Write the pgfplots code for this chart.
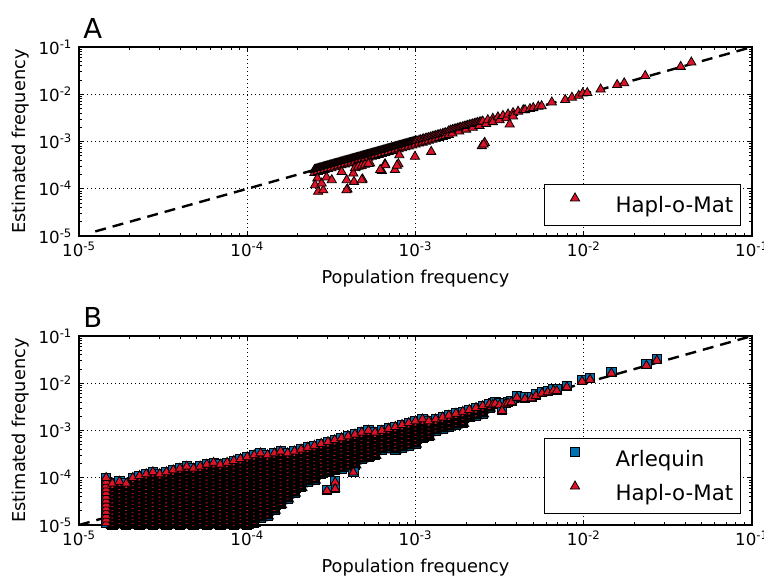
\documentclass[border=0pt]{standalone}
\usepackage{pgfplots}
\pgfplotsset{compat=1.18}
\usepackage{pgfplotstable}
\usepackage{fontspec}
\setmainfont{DejaVu Sans}
\definecolor{hapred}{RGB}{220,20,40}
\definecolor{arlblue}{RGB}{0,114,178}

% ---------- Panel A : Hapl-o-Mat, dense band near the diagonal ----------
\pgfplotstableread[row sep=\\]{
x y\\
2.51e-4 2.51e-4\\2.57e-4 2.57e-4\\2.63e-4 2.63e-4\\2.69e-4 2.69e-4\\2.75e-4 2.75e-4\\2.82e-4 2.82e-4\\2.88e-4 2.88e-4\\2.95e-4 2.95e-4\\3.02e-4 3.02e-4\\3.09e-4 3.09e-4\\
3.16e-4 3.16e-4\\3.24e-4 3.24e-4\\3.31e-4 3.31e-4\\3.39e-4 3.39e-4\\3.47e-4 3.47e-4\\3.55e-4 3.55e-4\\3.63e-4 3.63e-4\\3.72e-4 3.72e-4\\3.80e-4 3.80e-4\\3.89e-4 3.89e-4\\
3.98e-4 3.98e-4\\4.07e-4 4.07e-4\\4.17e-4 4.17e-4\\4.27e-4 4.27e-4\\4.37e-4 4.37e-4\\4.47e-4 4.47e-4\\4.57e-4 4.57e-4\\4.68e-4 4.68e-4\\4.79e-4 4.79e-4\\4.90e-4 4.90e-4\\
5.01e-4 5.01e-4\\5.13e-4 5.13e-4\\5.25e-4 5.25e-4\\5.37e-4 5.37e-4\\5.50e-4 5.50e-4\\5.62e-4 5.62e-4\\5.75e-4 5.75e-4\\5.89e-4 5.89e-4\\6.03e-4 6.03e-4\\6.17e-4 6.17e-4\\
6.31e-4 6.31e-4\\6.46e-4 6.46e-4\\6.61e-4 6.61e-4\\6.76e-4 6.76e-4\\6.92e-4 6.92e-4\\7.08e-4 7.08e-4\\7.24e-4 7.24e-4\\7.41e-4 7.41e-4\\7.59e-4 7.59e-4\\7.76e-4 7.76e-4\\
7.94e-4 7.94e-4\\8.13e-4 8.13e-4\\8.32e-4 8.32e-4\\8.51e-4 8.51e-4\\8.71e-4 8.71e-4\\8.91e-4 8.91e-4\\9.12e-4 9.12e-4\\9.33e-4 9.33e-4\\9.55e-4 9.55e-4\\9.77e-4 9.77e-4\\
2.54e-4 2.54e-4\\2.60e-4 2.60e-4\\2.66e-4 2.66e-4\\2.72e-4 2.72e-4\\2.79e-4 2.79e-4\\2.85e-4 2.85e-4\\2.92e-4 2.92e-4\\2.99e-4 2.99e-4\\3.06e-4 3.06e-4\\3.13e-4 3.13e-4\\
3.20e-4 3.20e-4\\3.27e-4 3.27e-4\\3.35e-4 3.35e-4\\3.43e-4 3.43e-4\\3.51e-4 3.51e-4\\3.59e-4 3.59e-4\\3.67e-4 3.67e-4\\3.76e-4 3.76e-4\\3.85e-4 3.85e-4\\3.94e-4 3.94e-4\\
4.03e-4 4.03e-4\\4.12e-4 4.12e-4\\4.22e-4 4.22e-4\\4.32e-4 4.32e-4\\4.42e-4 4.42e-4\\4.52e-4 4.52e-4\\4.62e-4 4.62e-4\\4.73e-4 4.73e-4\\4.84e-4 4.84e-4\\4.96e-4 4.96e-4\\
5.07e-4 5.07e-4\\5.19e-4 5.19e-4\\5.31e-4 5.31e-4\\5.43e-4 5.43e-4\\5.56e-4 5.56e-4\\5.69e-4 5.69e-4\\5.82e-4 5.82e-4\\5.96e-4 5.96e-4\\6.10e-4 6.10e-4\\6.24e-4 6.24e-4\\
6.38e-4 6.38e-4\\6.53e-4 6.53e-4\\6.68e-4 6.68e-4\\6.84e-4 6.84e-4\\7.00e-4 7.00e-4\\7.16e-4 7.16e-4\\7.33e-4 7.33e-4\\7.50e-4 7.50e-4\\7.67e-4 7.67e-4\\7.85e-4 7.85e-4\\
8.04e-4 8.04e-4\\8.22e-4 8.22e-4\\8.41e-4 8.41e-4\\8.61e-4 8.61e-4\\8.81e-4 8.81e-4\\9.02e-4 9.02e-4\\9.23e-4 9.23e-4\\9.44e-4 9.44e-4\\9.66e-4 9.66e-4\\9.89e-4 9.89e-4\\
1.00e-3 1.00e-3\\1.05e-3 1.05e-3\\1.10e-3 1.10e-3\\1.15e-3 1.15e-3\\1.20e-3 1.20e-3\\1.26e-3 1.26e-3\\1.32e-3 1.32e-3\\1.38e-3 1.38e-3\\1.45e-3 1.45e-3\\1.51e-3 1.51e-3\\
1.02e-3 1.02e-3\\1.07e-3 1.07e-3\\1.12e-3 1.12e-3\\1.17e-3 1.17e-3\\1.23e-3 1.23e-3\\1.29e-3 1.29e-3\\1.35e-3 1.35e-3\\1.41e-3 1.41e-3\\1.48e-3 1.48e-3\\1.55e-3 1.55e-3\\
1.58e-3 1.67e-3\\1.66e-3 1.76e-3\\1.74e-3 1.84e-3\\1.82e-3 1.93e-3\\1.91e-3 2.02e-3\\2.00e-3 2.12e-3\\2.09e-3 2.22e-3\\2.19e-3 2.32e-3\\2.29e-3 2.43e-3\\2.40e-3 2.54e-3\\
1.62e-3 1.72e-3\\1.70e-3 1.80e-3\\1.78e-3 1.89e-3\\1.86e-3 1.97e-3\\1.95e-3 2.07e-3\\2.04e-3 2.16e-3\\2.14e-3 2.27e-3\\2.24e-3 2.37e-3\\2.34e-3 2.48e-3\\2.45e-3 2.60e-3\\
2.51e-3 2.66e-3\\2.69e-3 2.85e-3\\2.88e-3 3.05e-3\\3.09e-3 3.28e-3\\3.31e-3 3.51e-3\\3.55e-3 3.76e-3\\3.80e-3 4.03e-3\\4.07e-3 4.31e-3\\4.37e-3 4.63e-3\\
2.51e-4 2.18e-4\\2.63e-4 2.29e-4\\2.75e-4 2.39e-4\\2.88e-4 2.51e-4\\3.02e-4 2.63e-4\\3.16e-4 2.75e-4\\3.31e-4 2.88e-4\\3.47e-4 3.02e-4\\3.63e-4 3.16e-4\\3.80e-4 3.31e-4\\
3.98e-4 3.47e-4\\4.17e-4 3.63e-4\\4.37e-4 3.80e-4\\4.57e-4 3.98e-4\\4.79e-4 4.17e-4\\5.01e-4 4.37e-4\\5.25e-4 4.57e-4\\5.50e-4 4.79e-4\\5.75e-4 5.01e-4\\6.03e-4 5.25e-4\\
6.31e-4 5.50e-4\\6.61e-4 5.75e-4\\6.92e-4 6.03e-4\\7.24e-4 6.31e-4\\7.59e-4 6.61e-4\\7.94e-4 6.92e-4\\8.32e-4 7.24e-4\\8.71e-4 7.59e-4\\9.12e-4 7.94e-4\\9.55e-4 8.32e-4\\
1.00e-3 8.71e-4\\1.05e-3 9.12e-4\\1.10e-3 9.55e-4\\1.15e-3 1.00e-3\\1.20e-3 1.05e-3\\1.26e-3 1.10e-3\\1.32e-3 1.15e-3\\1.38e-3 1.20e-3\\1.45e-3 1.26e-3\\1.51e-3 1.32e-3\\
1.58e-3 1.38e-3\\1.66e-3 1.49e-3\\1.82e-3 1.64e-3\\2.00e-3 1.80e-3\\2.19e-3 1.97e-3\\2.40e-3 2.16e-3\\2.63e-3 2.37e-3\\2.88e-3 2.59e-3\\3.16e-3 2.84e-3\\3.47e-3 3.12e-3\\3.80e-3 3.42e-3\\
}\hapAband
\pgfplotstablesort[sort key=x]{\hapAbandsorted}{\hapAband}

% ---------- Panel A : Hapl-o-Mat, outliers and high frequencies ----------
\pgfplotstableread[row sep=\\]{
x y\\
4.48e-3 4.65e-3\\4.79e-3 4.90e-3\\5.01e-3 5.13e-3\\5.37e-3 5.50e-3\\5.62e-3 5.62e-3\\6.46e-3 6.76e-3\\7.76e-3 7.59e-3\\8.51e-3 8.51e-3\\9.33e-3 9.33e-3\\9.86e-3 1.05e-2\\
1.05e-2 1.07e-2\\1.26e-2 1.27e-2\\1.58e-2 1.58e-2\\1.74e-2 1.72e-2\\2.32e-2 2.45e-2\\3.77e-2 3.83e-2\\4.36e-2 4.74e-2\\
2.61e-4 1.66e-4\\2.53e-4 1.20e-4\\2.64e-4 8.71e-5\\2.83e-4 9.33e-5\\2.77e-4 1.30e-4\\2.96e-4 1.75e-4\\3.18e-4 1.53e-4\\3.64e-4 2.29e-4\\3.90e-4 1.53e-4\\3.94e-4 9.77e-5\\
4.31e-4 1.41e-4\\4.27e-4 2.12e-4\\4.43e-4 2.84e-4\\4.85e-4 1.58e-4\\4.72e-4 3.02e-4\\5.37e-4 3.47e-4\\6.31e-4 2.41e-4\\6.59e-4 3.34e-4\\7.55e-4 2.51e-4\\7.91e-4 3.34e-4\\
8.02e-4 5.18e-4\\9.93e-4 4.79e-4\\1.24e-3 6.08e-4\\7.76e-4 3.09e-4\\6.61e-4 3.16e-4\\4.79e-4 1.53e-4\\3.89e-4 9.33e-5\\6.17e-4 2.51e-4\\
4.37e-4 2.75e-4\\4.57e-4 2.95e-4\\4.79e-4 3.09e-4\\5.01e-4 3.24e-4\\5.25e-4 3.39e-4\\
2.48e-3 8.04e-4\\2.58e-3 9.44e-4\\2.54e-3 8.71e-4\\3.63e-3 2.31e-3\\
}\hapAout

% ---------- Panel B : common low-frequency cloud (both estimators) ----------
\pgfplotstableread[row sep=\\]{
x y\\
1.58e-5 1.00e-5\\1.58e-5 1.20e-5\\1.58e-5 1.45e-5\\1.58e-5 1.74e-5\\1.58e-5 2.09e-5\\1.58e-5 2.51e-5\\1.58e-5 3.02e-5\\1.58e-5 3.63e-5\\1.58e-5 4.37e-5\\1.58e-5 5.25e-5\\1.58e-5 6.31e-5\\
1.74e-5 9.12e-6\\1.74e-5 1.10e-5\\1.74e-5 1.32e-5\\1.74e-5 1.58e-5\\1.74e-5 1.91e-5\\1.74e-5 2.29e-5\\1.74e-5 2.75e-5\\1.74e-5 3.31e-5\\1.74e-5 3.98e-5\\1.74e-5 4.79e-5\\1.74e-5 5.75e-5\\1.74e-5 6.92e-5\\
1.91e-5 1.00e-5\\1.91e-5 1.20e-5\\1.91e-5 1.45e-5\\1.91e-5 1.74e-5\\1.91e-5 2.09e-5\\1.91e-5 2.51e-5\\1.91e-5 3.02e-5\\1.91e-5 3.63e-5\\1.91e-5 4.37e-5\\1.91e-5 5.25e-5\\1.91e-5 6.31e-5\\
2.09e-5 9.12e-6\\2.09e-5 1.10e-5\\2.09e-5 1.32e-5\\2.09e-5 1.58e-5\\2.09e-5 1.91e-5\\2.09e-5 2.29e-5\\2.09e-5 2.75e-5\\2.09e-5 3.31e-5\\2.09e-5 3.98e-5\\2.09e-5 4.79e-5\\2.09e-5 5.75e-5\\2.09e-5 6.92e-5\\2.09e-5 8.32e-5\\
2.29e-5 1.00e-5\\2.29e-5 1.20e-5\\2.29e-5 1.45e-5\\2.29e-5 1.74e-5\\2.29e-5 2.09e-5\\2.29e-5 2.51e-5\\2.29e-5 3.02e-5\\2.29e-5 3.63e-5\\2.29e-5 4.37e-5\\2.29e-5 5.25e-5\\2.29e-5 6.31e-5\\2.29e-5 7.59e-5\\2.29e-5 9.12e-5\\
2.51e-5 9.12e-6\\2.51e-5 1.10e-5\\2.51e-5 1.32e-5\\2.51e-5 1.58e-5\\2.51e-5 1.91e-5\\2.51e-5 2.29e-5\\2.51e-5 2.75e-5\\2.51e-5 3.31e-5\\2.51e-5 3.98e-5\\2.51e-5 4.79e-5\\2.51e-5 5.75e-5\\2.51e-5 6.92e-5\\2.51e-5 8.32e-5\\2.51e-5 1.00e-4\\
2.75e-5 1.00e-5\\2.75e-5 1.20e-5\\2.75e-5 1.45e-5\\2.75e-5 1.74e-5\\2.75e-5 2.09e-5\\2.75e-5 2.51e-5\\2.75e-5 3.02e-5\\2.75e-5 3.63e-5\\2.75e-5 4.37e-5\\2.75e-5 5.25e-5\\2.75e-5 6.31e-5\\2.75e-5 7.59e-5\\2.75e-5 9.12e-5\\2.75e-5 1.10e-4\\
3.02e-5 9.12e-6\\3.02e-5 1.10e-5\\3.02e-5 1.32e-5\\3.02e-5 1.58e-5\\3.02e-5 1.91e-5\\3.02e-5 2.29e-5\\3.02e-5 2.75e-5\\3.02e-5 3.31e-5\\3.02e-5 3.98e-5\\3.02e-5 4.79e-5\\3.02e-5 5.75e-5\\3.02e-5 6.92e-5\\3.02e-5 8.32e-5\\3.02e-5 1.00e-4\\
3.31e-5 1.00e-5\\3.31e-5 1.20e-5\\3.31e-5 1.45e-5\\3.31e-5 1.74e-5\\3.31e-5 2.09e-5\\3.31e-5 2.51e-5\\3.31e-5 3.02e-5\\3.31e-5 3.63e-5\\3.31e-5 4.37e-5\\3.31e-5 5.25e-5\\3.31e-5 6.31e-5\\3.31e-5 7.59e-5\\3.31e-5 9.12e-5\\3.31e-5 1.10e-4\\
3.63e-5 9.12e-6\\3.63e-5 1.10e-5\\3.63e-5 1.32e-5\\3.63e-5 1.58e-5\\3.63e-5 1.91e-5\\3.63e-5 2.29e-5\\3.63e-5 2.75e-5\\3.63e-5 3.31e-5\\3.63e-5 3.98e-5\\3.63e-5 4.79e-5\\3.63e-5 5.75e-5\\3.63e-5 6.92e-5\\3.63e-5 8.32e-5\\3.63e-5 1.00e-4\\3.63e-5 1.20e-4\\
3.98e-5 1.00e-5\\3.98e-5 1.20e-5\\3.98e-5 1.45e-5\\3.98e-5 1.74e-5\\3.98e-5 2.09e-5\\3.98e-5 2.51e-5\\3.98e-5 3.02e-5\\3.98e-5 3.63e-5\\3.98e-5 4.37e-5\\3.98e-5 5.25e-5\\3.98e-5 6.31e-5\\3.98e-5 7.59e-5\\3.98e-5 9.12e-5\\3.98e-5 1.10e-4\\3.98e-5 1.32e-4\\
4.37e-5 9.12e-6\\4.37e-5 1.10e-5\\4.37e-5 1.32e-5\\4.37e-5 1.58e-5\\4.37e-5 1.91e-5\\4.37e-5 2.29e-5\\4.37e-5 2.75e-5\\4.37e-5 3.31e-5\\4.37e-5 3.98e-5\\4.37e-5 4.79e-5\\4.37e-5 5.75e-5\\4.37e-5 6.92e-5\\4.37e-5 8.32e-5\\4.37e-5 1.00e-4\\4.37e-5 1.20e-4\\4.37e-5 1.45e-4\\
4.79e-5 1.00e-5\\4.79e-5 1.20e-5\\4.79e-5 1.45e-5\\4.79e-5 1.74e-5\\4.79e-5 2.09e-5\\4.79e-5 2.51e-5\\4.79e-5 3.02e-5\\4.79e-5 3.63e-5\\4.79e-5 4.37e-5\\4.79e-5 5.25e-5\\4.79e-5 6.31e-5\\4.79e-5 7.59e-5\\4.79e-5 9.12e-5\\4.79e-5 1.10e-4\\4.79e-5 1.32e-4\\
5.25e-5 9.12e-6\\5.25e-5 1.10e-5\\5.25e-5 1.32e-5\\5.25e-5 1.58e-5\\5.25e-5 1.91e-5\\5.25e-5 2.29e-5\\5.25e-5 2.75e-5\\5.25e-5 3.31e-5\\5.25e-5 3.98e-5\\5.25e-5 4.79e-5\\5.25e-5 5.75e-5\\5.25e-5 6.92e-5\\5.25e-5 8.32e-5\\5.25e-5 1.00e-4\\5.25e-5 1.20e-4\\5.25e-5 1.45e-4\\
5.75e-5 1.00e-5\\5.75e-5 1.20e-5\\5.75e-5 1.45e-5\\5.75e-5 1.74e-5\\5.75e-5 2.09e-5\\5.75e-5 2.51e-5\\5.75e-5 3.02e-5\\5.75e-5 3.63e-5\\5.75e-5 4.37e-5\\5.75e-5 5.25e-5\\5.75e-5 6.31e-5\\5.75e-5 7.59e-5\\5.75e-5 9.12e-5\\5.75e-5 1.10e-4\\5.75e-5 1.32e-4\\5.75e-5 1.58e-4\\
6.31e-5 9.12e-6\\6.31e-5 1.10e-5\\6.31e-5 1.32e-5\\6.31e-5 1.58e-5\\6.31e-5 1.91e-5\\6.31e-5 2.29e-5\\6.31e-5 2.75e-5\\6.31e-5 3.31e-5\\6.31e-5 3.98e-5\\6.31e-5 4.79e-5\\6.31e-5 5.75e-5\\6.31e-5 6.92e-5\\6.31e-5 8.32e-5\\6.31e-5 1.00e-4\\6.31e-5 1.20e-4\\6.31e-5 1.45e-4\\6.31e-5 1.74e-4\\
6.92e-5 1.00e-5\\6.92e-5 1.20e-5\\6.92e-5 1.45e-5\\6.92e-5 1.74e-5\\6.92e-5 2.09e-5\\6.92e-5 2.51e-5\\6.92e-5 3.02e-5\\6.92e-5 3.63e-5\\6.92e-5 4.37e-5\\6.92e-5 5.25e-5\\6.92e-5 6.31e-5\\6.92e-5 7.59e-5\\6.92e-5 9.12e-5\\6.92e-5 1.10e-4\\6.92e-5 1.32e-4\\6.92e-5 1.58e-4\\
7.59e-5 9.12e-6\\7.59e-5 1.10e-5\\7.59e-5 1.32e-5\\7.59e-5 1.58e-5\\7.59e-5 1.91e-5\\7.59e-5 2.29e-5\\7.59e-5 2.75e-5\\7.59e-5 3.31e-5\\7.59e-5 3.98e-5\\7.59e-5 4.79e-5\\7.59e-5 5.75e-5\\7.59e-5 6.92e-5\\7.59e-5 8.32e-5\\7.59e-5 1.00e-4\\7.59e-5 1.20e-4\\7.59e-5 1.45e-4\\7.59e-5 1.74e-4\\
8.32e-5 1.00e-5\\8.32e-5 1.20e-5\\8.32e-5 1.45e-5\\8.32e-5 1.74e-5\\8.32e-5 2.09e-5\\8.32e-5 2.51e-5\\8.32e-5 3.02e-5\\8.32e-5 3.63e-5\\8.32e-5 4.37e-5\\8.32e-5 5.25e-5\\8.32e-5 6.31e-5\\8.32e-5 7.59e-5\\8.32e-5 9.12e-5\\8.32e-5 1.10e-4\\8.32e-5 1.32e-4\\8.32e-5 1.58e-4\\8.32e-5 1.91e-4\\
9.12e-5 9.12e-6\\9.12e-5 1.10e-5\\9.12e-5 1.32e-5\\9.12e-5 1.58e-5\\9.12e-5 1.91e-5\\9.12e-5 2.29e-5\\9.12e-5 2.75e-5\\9.12e-5 3.31e-5\\9.12e-5 3.98e-5\\9.12e-5 4.79e-5\\9.12e-5 5.75e-5\\9.12e-5 6.92e-5\\9.12e-5 8.32e-5\\9.12e-5 1.00e-4\\9.12e-5 1.20e-4\\9.12e-5 1.45e-4\\9.12e-5 1.74e-4\\9.12e-5 2.09e-4\\
1.00e-4 1.00e-5\\1.00e-4 1.20e-5\\1.00e-4 1.45e-5\\1.00e-4 1.74e-5\\1.00e-4 2.09e-5\\1.00e-4 2.51e-5\\1.00e-4 3.02e-5\\1.00e-4 3.63e-5\\1.00e-4 4.37e-5\\1.00e-4 5.25e-5\\1.00e-4 6.31e-5\\1.00e-4 7.59e-5\\1.00e-4 9.12e-5\\1.00e-4 1.10e-4\\1.00e-4 1.32e-4\\1.00e-4 1.58e-4\\1.00e-4 1.91e-4\\1.00e-4 2.29e-4\\
1.10e-4 1.10e-5\\1.10e-4 1.32e-5\\1.10e-4 1.58e-5\\1.10e-4 1.91e-5\\1.10e-4 2.29e-5\\1.10e-4 2.75e-5\\1.10e-4 3.31e-5\\1.10e-4 3.98e-5\\1.10e-4 4.79e-5\\1.10e-4 5.75e-5\\1.10e-4 6.92e-5\\1.10e-4 8.32e-5\\1.10e-4 1.00e-4\\1.10e-4 1.20e-4\\1.10e-4 1.45e-4\\1.10e-4 1.74e-4\\1.10e-4 2.09e-4\\1.10e-4 2.51e-4\\
1.20e-4 1.45e-5\\1.20e-4 1.74e-5\\1.20e-4 2.09e-5\\1.20e-4 2.51e-5\\1.20e-4 3.02e-5\\1.20e-4 3.63e-5\\1.20e-4 4.37e-5\\1.20e-4 5.25e-5\\1.20e-4 6.31e-5\\1.20e-4 7.59e-5\\1.20e-4 9.12e-5\\1.20e-4 1.10e-4\\1.20e-4 1.32e-4\\1.20e-4 1.58e-4\\1.20e-4 1.91e-4\\1.20e-4 2.29e-4\\1.20e-4 2.75e-4\\
1.32e-4 1.58e-5\\1.32e-4 1.91e-5\\1.32e-4 2.29e-5\\1.32e-4 2.75e-5\\1.32e-4 3.31e-5\\1.32e-4 3.98e-5\\1.32e-4 4.79e-5\\1.32e-4 5.75e-5\\1.32e-4 6.92e-5\\1.32e-4 8.32e-5\\1.32e-4 1.00e-4\\1.32e-4 1.20e-4\\1.32e-4 1.45e-4\\1.32e-4 1.74e-4\\1.32e-4 2.09e-4\\1.32e-4 2.51e-4\\
1.45e-4 2.09e-5\\1.45e-4 2.51e-5\\1.45e-4 3.02e-5\\1.45e-4 3.63e-5\\1.45e-4 4.37e-5\\1.45e-4 5.25e-5\\1.45e-4 6.31e-5\\1.45e-4 7.59e-5\\1.45e-4 9.12e-5\\1.45e-4 1.10e-4\\1.45e-4 1.32e-4\\1.45e-4 1.58e-4\\1.45e-4 1.91e-4\\1.45e-4 2.29e-4\\1.45e-4 2.75e-4\\
1.58e-4 2.75e-5\\1.58e-4 3.31e-5\\1.58e-4 3.98e-5\\1.58e-4 4.79e-5\\1.58e-4 5.75e-5\\1.58e-4 6.92e-5\\1.58e-4 8.32e-5\\1.58e-4 1.00e-4\\1.58e-4 1.20e-4\\1.58e-4 1.45e-4\\1.58e-4 1.74e-4\\1.58e-4 2.09e-4\\1.58e-4 2.51e-4\\1.58e-4 3.02e-4\\
1.74e-4 3.63e-5\\1.74e-4 4.37e-5\\1.74e-4 5.25e-5\\1.74e-4 6.31e-5\\1.74e-4 7.59e-5\\1.74e-4 9.12e-5\\1.74e-4 1.10e-4\\1.74e-4 1.32e-4\\1.74e-4 1.58e-4\\1.74e-4 1.91e-4\\1.74e-4 2.29e-4\\1.74e-4 2.75e-4\\
1.91e-4 4.79e-5\\1.91e-4 5.75e-5\\1.91e-4 6.92e-5\\1.91e-4 8.32e-5\\1.91e-4 1.00e-4\\1.91e-4 1.20e-4\\1.91e-4 1.45e-4\\1.91e-4 1.74e-4\\1.91e-4 2.09e-4\\1.91e-4 2.51e-4\\1.91e-4 3.02e-4\\
2.09e-4 6.31e-5\\2.09e-4 7.59e-5\\2.09e-4 9.12e-5\\2.09e-4 1.10e-4\\2.09e-4 1.32e-4\\2.09e-4 1.58e-4\\2.09e-4 1.91e-4\\2.09e-4 2.29e-4\\2.09e-4 2.75e-4\\2.09e-4 3.31e-4\\
2.29e-4 8.32e-5\\2.29e-4 1.00e-4\\2.29e-4 1.20e-4\\2.29e-4 1.45e-4\\2.29e-4 1.74e-4\\2.29e-4 2.09e-4\\2.29e-4 2.51e-4\\2.29e-4 3.02e-4\\2.29e-4 3.63e-4\\
2.51e-4 9.12e-5\\2.51e-4 1.10e-4\\2.51e-4 1.32e-4\\2.51e-4 1.58e-4\\2.51e-4 1.91e-4\\2.51e-4 2.29e-4\\2.51e-4 2.75e-4\\2.51e-4 3.31e-4\\2.51e-4 3.98e-4\\
2.75e-4 1.20e-4\\2.75e-4 1.45e-4\\2.75e-4 1.74e-4\\2.75e-4 2.09e-4\\2.75e-4 2.51e-4\\2.75e-4 3.02e-4\\2.75e-4 3.63e-4\\2.75e-4 4.37e-4\\
3.02e-4 1.32e-4\\3.02e-4 1.58e-4\\3.02e-4 1.91e-4\\3.02e-4 2.29e-4\\3.02e-4 2.75e-4\\3.02e-4 3.31e-4\\3.02e-4 3.98e-4\\3.02e-4 4.79e-4\\
3.31e-4 1.45e-4\\3.31e-4 1.74e-4\\3.31e-4 2.09e-4\\3.31e-4 2.51e-4\\3.31e-4 3.02e-4\\3.31e-4 3.63e-4\\3.31e-4 4.37e-4\\3.31e-4 5.25e-4\\
3.63e-4 1.58e-4\\3.63e-4 1.91e-4\\3.63e-4 2.29e-4\\3.63e-4 2.75e-4\\3.63e-4 3.31e-4\\3.63e-4 3.98e-4\\3.63e-4 4.79e-4\\3.63e-4 5.75e-4\\
3.98e-4 1.74e-4\\3.98e-4 2.09e-4\\3.98e-4 2.51e-4\\3.98e-4 3.02e-4\\3.98e-4 3.63e-4\\3.98e-4 4.37e-4\\3.98e-4 5.25e-4\\3.98e-4 6.31e-4\\
4.37e-4 1.91e-4\\4.37e-4 2.29e-4\\4.37e-4 2.75e-4\\4.37e-4 3.31e-4\\4.37e-4 3.98e-4\\4.37e-4 4.79e-4\\4.37e-4 5.75e-4\\4.37e-4 6.92e-4\\
4.79e-4 2.51e-4\\4.79e-4 3.02e-4\\4.79e-4 3.63e-4\\4.79e-4 4.37e-4\\4.79e-4 5.25e-4\\4.79e-4 6.31e-4\\4.79e-4 7.59e-4\\
5.25e-4 2.75e-4\\5.25e-4 3.31e-4\\5.25e-4 3.98e-4\\5.25e-4 4.79e-4\\5.25e-4 5.75e-4\\5.25e-4 6.92e-4\\5.25e-4 8.32e-4\\
5.75e-4 3.02e-4\\5.75e-4 3.63e-4\\5.75e-4 4.37e-4\\5.75e-4 5.25e-4\\5.75e-4 6.31e-4\\5.75e-4 7.59e-4\\
6.31e-4 3.98e-4\\6.31e-4 4.79e-4\\6.31e-4 5.75e-4\\6.31e-4 6.92e-4\\6.31e-4 8.32e-4\\
6.92e-4 4.37e-4\\6.92e-4 5.25e-4\\6.92e-4 6.31e-4\\6.92e-4 7.59e-4\\6.92e-4 9.12e-4\\
7.59e-4 3.98e-4\\7.59e-4 4.79e-4\\7.59e-4 5.75e-4\\7.59e-4 6.92e-4\\7.59e-4 8.32e-4\\7.59e-4 1.00e-3\\
8.32e-4 4.37e-4\\8.32e-4 5.25e-4\\8.32e-4 6.31e-4\\8.32e-4 7.59e-4\\8.32e-4 9.12e-4\\8.32e-4 1.10e-3\\
9.12e-4 4.79e-4\\9.12e-4 5.75e-4\\9.12e-4 6.92e-4\\9.12e-4 8.32e-4\\9.12e-4 1.00e-3\\9.12e-4 1.20e-3\\
1.00e-3 5.25e-4\\1.00e-3 6.31e-4\\1.00e-3 7.59e-4\\1.00e-3 9.12e-4\\1.00e-3 1.10e-3\\1.00e-3 1.32e-3\\
1.10e-3 6.92e-4\\1.10e-3 8.32e-4\\1.10e-3 1.00e-3\\1.10e-3 1.20e-3\\1.10e-3 1.45e-3\\
1.20e-3 7.59e-4\\1.20e-3 9.12e-4\\1.20e-3 1.10e-3\\1.20e-3 1.32e-3\\
1.32e-3 1.00e-3\\1.32e-3 1.20e-3\\1.32e-3 1.45e-3\\
1.45e-3 1.10e-3\\1.45e-3 1.32e-3\\1.45e-3 1.58e-3\\
1.58e-3 1.20e-3\\1.58e-3 1.45e-3\\1.58e-3 1.74e-3\\
1.74e-3 1.32e-3\\1.74e-3 1.58e-3\\1.74e-3 1.91e-3\\
1.91e-3 1.45e-3\\1.91e-3 1.74e-3\\1.91e-3 2.09e-3\\
2.09e-3 1.91e-3\\2.09e-3 2.29e-3\\
2.29e-3 2.09e-3\\2.29e-3 2.51e-3\\
2.51e-3 2.29e-3\\2.51e-3 2.75e-3\\
2.75e-3 3.02e-3\\
}\cloudB

% ---------- Panel B : cloud edge (first column and upper envelope) ----------
\pgfplotstableread[row sep=\\]{
x y\\
1.45e-5 9.12e-6\\1.45e-5 1.10e-5\\1.45e-5 1.32e-5\\1.45e-5 1.58e-5\\1.45e-5 1.91e-5\\1.45e-5 2.29e-5\\1.45e-5 2.75e-5\\1.45e-5 3.31e-5\\1.45e-5 3.98e-5\\1.45e-5 4.79e-5\\1.45e-5 5.75e-5\\1.45e-5 6.92e-5\\1.45e-5 8.32e-5\\1.45e-5 1.00e-4\\
1.58e-5 7.59e-5\\1.74e-5 8.32e-5\\1.91e-5 7.59e-5\\2.09e-5 1.00e-4\\2.29e-5 1.10e-4\\2.51e-5 1.20e-4\\2.75e-5 1.32e-4\\3.02e-5 1.20e-4\\3.31e-5 1.32e-4\\3.63e-5 1.45e-4\\
3.98e-5 1.58e-4\\4.37e-5 1.74e-4\\4.79e-5 1.58e-4\\5.25e-5 1.74e-4\\5.75e-5 1.91e-4\\6.31e-5 2.09e-4\\6.92e-5 1.91e-4\\7.59e-5 2.09e-4\\8.32e-5 2.29e-4\\9.12e-5 2.51e-4\\
1.00e-4 2.75e-4\\1.10e-4 3.02e-4\\1.20e-4 3.31e-4\\1.32e-4 3.02e-4\\1.45e-4 3.31e-4\\1.58e-4 3.63e-4\\1.74e-4 3.31e-4\\1.91e-4 3.63e-4\\2.09e-4 3.98e-4\\2.29e-4 4.37e-4\\
2.51e-4 4.79e-4\\2.75e-4 5.25e-4\\3.02e-4 5.75e-4\\3.31e-4 6.31e-4\\3.63e-4 6.92e-4\\3.98e-4 7.59e-4\\4.37e-4 8.32e-4\\4.79e-4 9.12e-4\\5.25e-4 1.00e-3\\5.75e-4 9.12e-4\\
6.31e-4 1.00e-3\\6.92e-4 1.10e-3\\7.59e-4 1.20e-3\\8.32e-4 1.32e-3\\9.12e-4 1.45e-3\\1.00e-3 1.58e-3\\1.10e-3 1.74e-3\\1.20e-3 1.58e-3\\1.32e-3 1.74e-3\\1.45e-3 1.91e-3\\
1.58e-3 2.09e-3\\1.74e-3 2.29e-3\\1.91e-3 2.51e-3\\2.09e-3 2.75e-3\\2.29e-3 3.02e-3\\2.51e-3 3.31e-3\\2.75e-3 3.63e-3\\
}\edgeB

% ---------- Panel B : higher-frequency points ----------
\pgfplotstableread[row sep=\\]{
x y\\
3.33e-4 8.32e-5\\3.33e-4 6.03e-5\\4.27e-4 1.35e-4\\2.98e-4 5.50e-5\\
2.88e-3 3.80e-3\\2.98e-3 3.98e-3\\3.16e-3 3.72e-3\\3.27e-3 2.82e-3\\3.42e-3 3.89e-3\\3.55e-3 4.07e-3\\3.72e-3 4.27e-3\\4.01e-3 5.37e-3\\4.47e-3 5.01e-3\\4.90e-3 5.19e-3\\
5.20e-3 5.83e-3\\5.65e-3 6.61e-3\\6.11e-3 6.95e-3\\6.61e-3 7.59e-3\\6.92e-3 7.41e-3\\7.94e-3 8.91e-3\\9.77e-3 1.17e-2\\1.09e-2 1.29e-2\\1.46e-2 1.75e-2\\2.36e-2 2.55e-2\\2.72e-2 3.26e-2\\
}\arlB
\pgfplotstableread[row sep=\\]{
x y\\
3.33e-4 8.00e-5\\3.33e-4 5.80e-5\\4.27e-4 1.30e-4\\2.98e-4 5.30e-5\\
2.88e-3 3.53e-3\\2.98e-3 3.70e-3\\3.16e-3 3.46e-3\\3.27e-3 2.62e-3\\3.42e-3 3.62e-3\\3.55e-3 3.79e-3\\3.72e-3 3.97e-3\\4.01e-3 4.99e-3\\4.47e-3 4.66e-3\\4.90e-3 4.83e-3\\
5.20e-3 5.42e-3\\5.65e-3 6.15e-3\\6.11e-3 6.46e-3\\6.61e-3 7.06e-3\\6.92e-3 6.89e-3\\7.94e-3 8.29e-3\\9.77e-3 1.09e-2\\1.09e-2 1.20e-2\\1.46e-2 1.63e-2\\2.36e-2 2.37e-2\\2.72e-2 3.03e-2\\
}\hapB

\pgfplotsset{
  panel/.style={
    scale only axis, width=504.75pt, height=141.75pt,
    xmin=1e-5, xmax=1e-1, ymin=1e-5, ymax=1e-1,
    xtick={1e-5,1e-4,1e-3,1e-2,1e-1},
    ytick={1e-5,1e-4,1e-3,1e-2,1e-1},
    xticklabels={10\textsuperscript{-5},10\textsuperscript{-4},10\textsuperscript{-3},10\textsuperscript{-2},10\textsuperscript{-1}},
    yticklabels={10\textsuperscript{-5},10\textsuperscript{-4},10\textsuperscript{-3},10\textsuperscript{-2},10\textsuperscript{-1}},
    minor xtick={2e-5,3e-5,4e-5,5e-5,6e-5,7e-5,8e-5,9e-5,2e-4,3e-4,4e-4,5e-4,6e-4,7e-4,8e-4,9e-4,2e-3,3e-3,4e-3,5e-3,6e-3,7e-3,8e-3,9e-3,2e-2,3e-2,4e-2,5e-2,6e-2,7e-2,8e-2,9e-2},
    minor ytick={2e-5,3e-5,4e-5,5e-5,6e-5,7e-5,8e-5,9e-5,2e-4,3e-4,4e-4,5e-4,6e-4,7e-4,8e-4,9e-4,2e-3,3e-3,4e-3,5e-3,6e-3,7e-3,8e-3,9e-3,2e-2,3e-2,4e-2,5e-2,6e-2,7e-2,8e-2,9e-2},
    tick align=inside, xtick pos=both, ytick pos=both,
    major tick length=3.75pt, minor tick length=2pt,
    tick style={black, line width=0.6pt},
    axis line style={black, line width=0.9pt},
    grid=major,
    major grid style={black, line width=0.6pt, dash pattern=on 0.75pt off 2.25pt},
    tick label style={font=\fontsize{12.5}{14}\selectfont, inner sep=0pt},
    xticklabel shift=4.5pt, yticklabel shift=5pt,
    label style={font=\fontsize{13.3}{16}\selectfont},
    xlabel={Population frequency}, ylabel={Estimated frequency},
    xlabel style={at={(axis description cs:0.5,-0.249)}, anchor=base},
    ylabel style={at={(axis description cs:-0.0802,0.5)}, anchor=base},
    legend cell align=left,
    legend style={anchor=south east, draw=black, line width=0.75pt,
      inner xsep=5.5pt, inner ysep=6.6pt, font=\fontsize{16}{19}\selectfont,
      nodes={inner sep=0pt, text height=13pt, text depth=3pt}, row sep=7.8pt},
  },
  hapstyle/.style={only marks, mark=triangle*, mark size=4pt, black,
    mark options={solid, fill=hapred, draw=black, line width=0.6pt},
    legend image code/.code={\path (-17pt,0pt) (30pt,0pt);
      \draw[black] plot[only marks, mark=triangle*, mark size=4pt,
        mark options={solid, fill=hapred, draw=black, line width=0.6pt}] coordinates {(0pt,5.8pt)};}},
  arlstyle/.style={only marks, mark=square*, mark size=3.5pt, black,
    mark options={solid, fill=arlblue, draw=black, line width=0.6pt},
    legend image code/.code={\path (-17pt,0pt) (30pt,0pt);
      \draw[black] plot[only marks, mark=square*, mark size=3.5pt,
        mark options={solid, fill=arlblue, draw=black, line width=0.6pt}] coordinates {(0pt,5.8pt)};}},
  hapcloud/.style={hapstyle, mark size=3.6pt, mark options={solid, fill=hapred, draw=black, line width=2.2pt}},
  arlcloud/.style={arlstyle, mark options={solid, fill=arlblue, draw=black, line width=0.8pt}},
  diag/.style={black, line width=1.8pt, dash pattern=on 8.25pt off 5.25pt, forget plot},
}

\begin{document}
\begin{tikzpicture}
\useasboundingbox (0pt,0pt) rectangle (573pt,432pt);
\begin{axis}[xmode=log, ymode=log, panel, name=A, at={(59.25pt,255pt)}, anchor=south west,
  legend style={at={(0.9837,0.053)}}]
\addplot[diag] coordinates {(1.25e-5,1.25e-5) (1e-1,1e-1)};
\addplot[hapstyle] table[x=x,y=y]{\hapAbandsorted};
\addlegendentry{Hapl-o-Mat}
\addplot[hapstyle, forget plot] table[x=x,y=y]{\hapAout};
\end{axis}
\node[anchor=base west, inner sep=0pt, font=\fontsize{20.6}{24}\selectfont] at ([xshift=3pt,yshift=6.75pt]A.north west) {A};

\begin{axis}[xmode=log, ymode=log, panel, name=B, at={(59.25pt,38.25pt)}, anchor=south west,
  legend style={at={(0.9837,0.058)}}]
\addplot[diag] coordinates {(1.0e-5,1.0e-5) (1e-1,1e-1)};
\addplot[arlcloud] table[x=x,y=y]{\cloudB};
\addlegendentry{Arlequin}
\addplot[arlstyle, forget plot] table[x=x,y=y]{\edgeB};
\addplot[arlstyle, forget plot] table[x=x,y=y]{\arlB};
\addplot[hapcloud] table[x=x,y=y]{\cloudB};
\addlegendentry{Hapl-o-Mat}
\addplot[hapstyle, forget plot] table[x=x,y=y]{\edgeB};
\addplot[hapstyle, forget plot] table[x=x,y=y]{\hapB};
\end{axis}
\node[anchor=base west, inner sep=0pt, font=\fontsize{20.6}{24}\selectfont] at ([xshift=3pt,yshift=6.75pt]B.north west) {B};
\end{tikzpicture}
\end{document}
